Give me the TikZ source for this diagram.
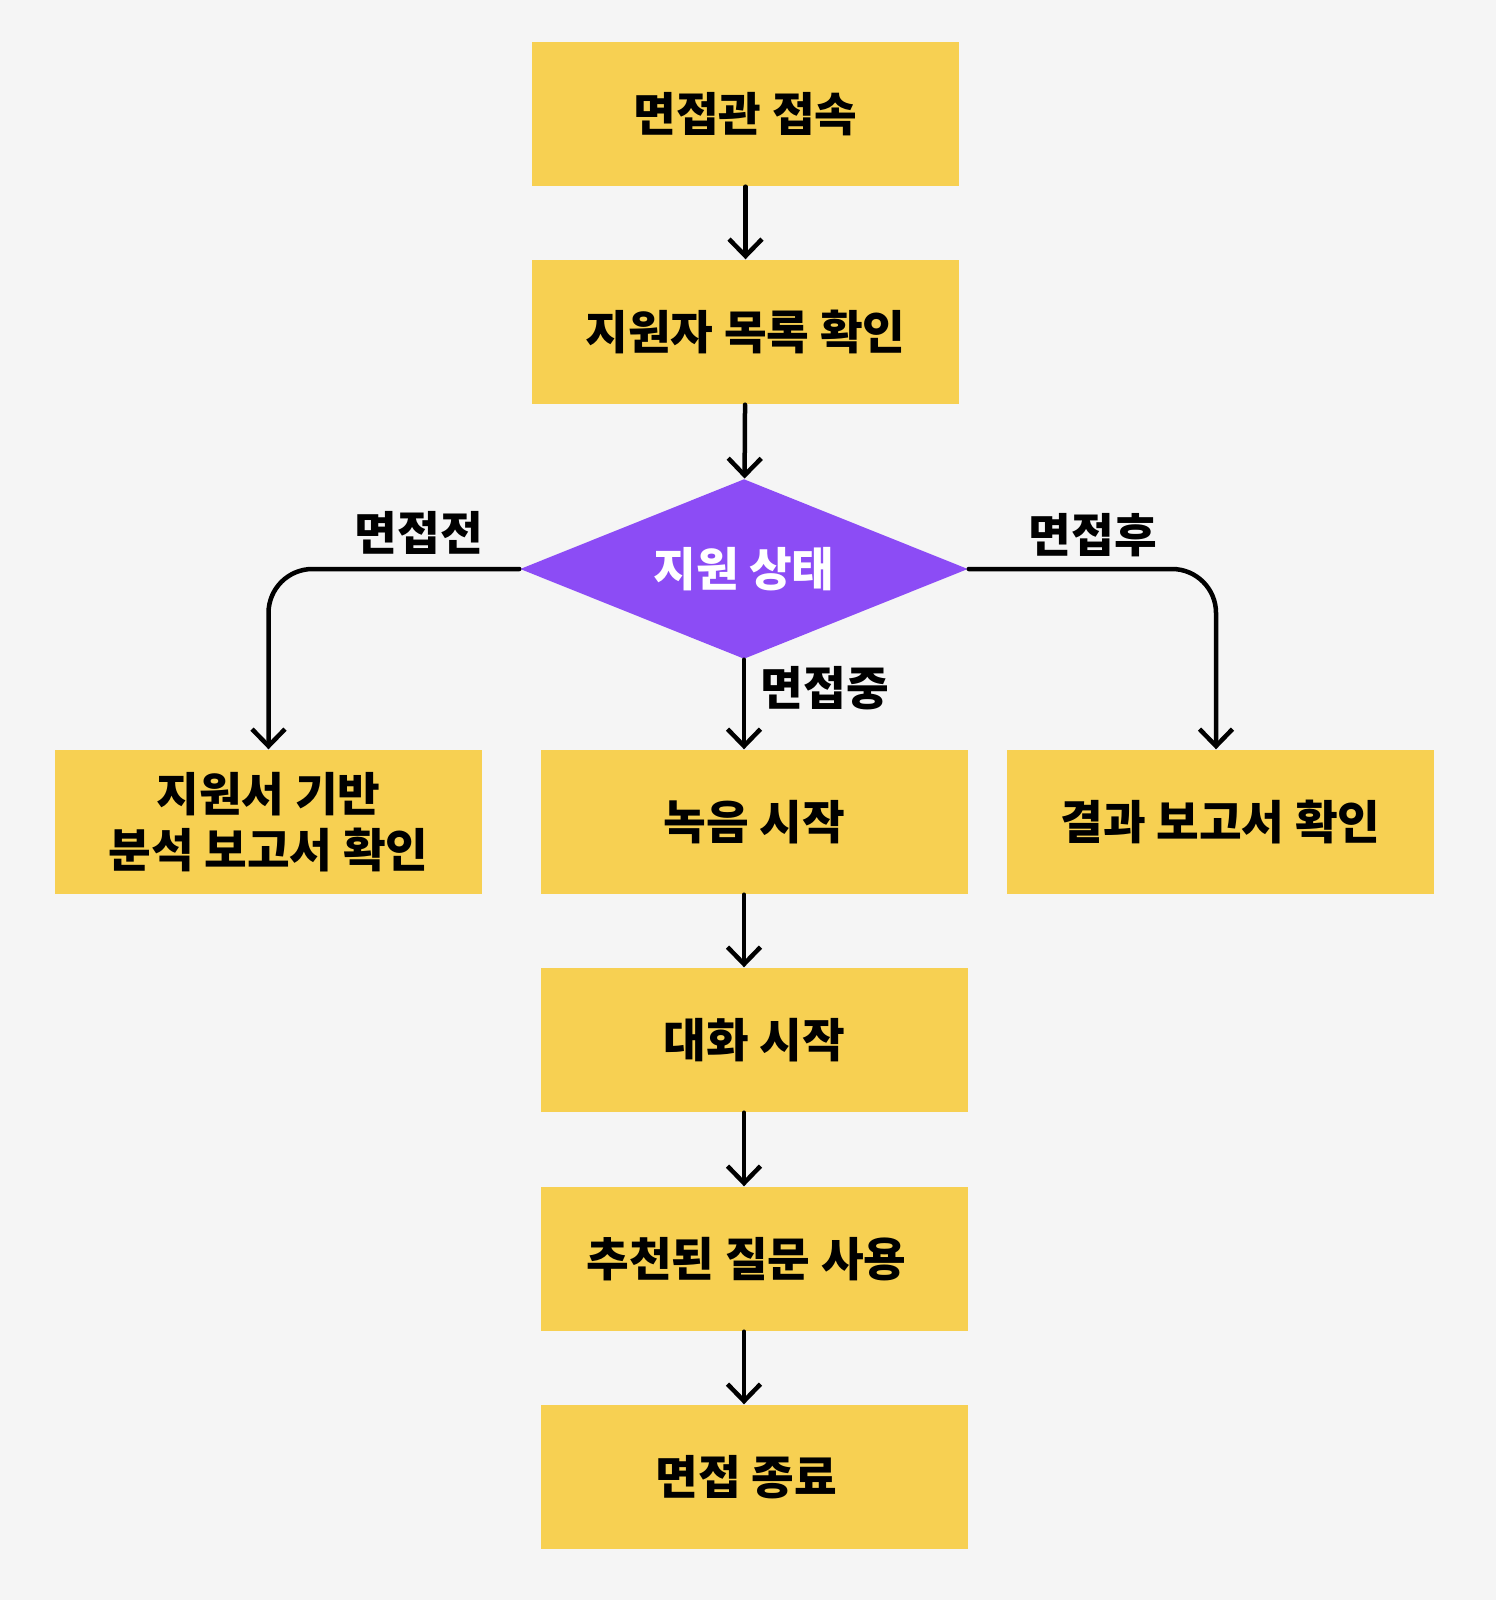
\documentclass[tikz,border=0pt]{standalone}
\usepackage{fontspec}
\setmainfont{Noto Sans CJK KR}
\usetikzlibrary{shapes.geometric}
\usetikzlibrary{arrows.meta}
\definecolor{bgcol}{HTML}{F5F5F5}
\definecolor{boxcol}{HTML}{F7D052}
\definecolor{diacol}{HTML}{8C4CF5}
\tikzset{
  box/.style={fill=boxcol, minimum width=4.27cm, minimum height=1.44cm, inner sep=0pt, align=center, font=\fontsize{13.2}{16}\selectfont\bfseries},
  choice/.style={diamond, fill=diacol, text=white, aspect=2.49, minimum width=4.48cm, minimum height=1.8cm, inner sep=0pt, font=\fontsize{13.2}{16}\selectfont\bfseries},
  lbl/.style={font=\fontsize{13.2}{16}\selectfont\bfseries, inner sep=0pt},
  arr/.style={line width=.045cm, line cap=round, -{Straight Barb[length=.17cm, width=.33cm, line width=.045cm]}}
}
\begin{document}
\begin{tikzpicture}
\fill[bgcol] (0,0) rectangle (14.96,-16);
\useasboundingbox (0,0) rectangle (14.96,-16);
% main column
\node[box] (conn) at (7.455,-1.14) {면접관 접속};
\node[box] (list) at (7.455,-3.32) {지원자 목록 확인};
\node[choice] (state) at (7.44,-5.69) {지원 상태};
\node[box] (report) at (2.685,-8.22) {지원서 기반\\분석 보고서 확인};
\node[box] (rec) at (7.545,-8.22) {녹음 시작};
\node[box] (result) at (12.205,-8.22) {결과 보고서 확인};
\node[box] (talk) at (7.545,-10.40) {대화 시작};
\node[box] (ask) at (7.545,-12.59) {추천된 질문 사용\hspace*{.16cm}};
\node[box] (fin) at (7.545,-14.77) {면접 종료\hspace*{.16cm}};
% branch labels
\node[lbl] (pre) at (4.19,-5.33) {면접전};
\node[lbl] (mid) at (8.25,-6.88) {면접중};
\node[lbl] (post) at (10.93,-5.35) {면접후};
% arrows
\draw[arr] (conn) -- (list);
\draw[arr] (list) -- (state);
\draw[arr, rounded corners=.44cm] (state.west) -| (report.north);
\draw[arr, rounded corners=.44cm] (state.east) -| ([xshift=-.045cm]result.north);
\draw[arr] (state.south) -- (state.south |- rec.north);
\draw[arr] (rec.south -| state.south) -- (talk.north -| state.south);
\draw[arr] (talk.south -| state.south) -- (ask.north -| state.south);
\draw[arr] (ask.south -| state.south) -- (fin.north -| state.south);
\end{tikzpicture}
\end{document}
